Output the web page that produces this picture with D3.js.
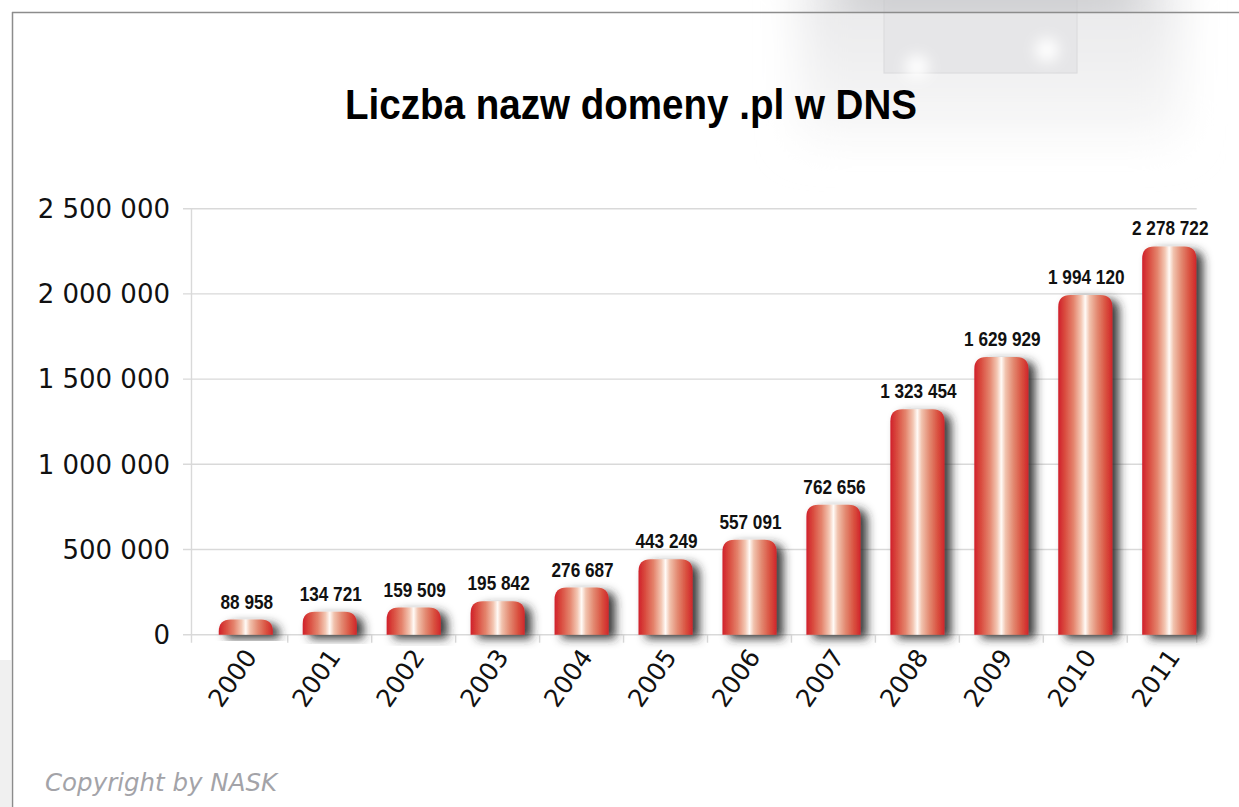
<!DOCTYPE html>
<html>
<head>
<meta charset="utf-8">
<script src="https://cdn.jsdelivr.net/npm/d3@7"></script>
<style>
  html, body { margin: 0; padding: 0; background: #fff; }
  svg { display: block; }
</style>
</head>
<body>
<div id="chart"></div>
<script>
const years = ["2000", "2001", "2002", "2003", "2004", "2005", "2006", "2007", "2008", "2009", "2010", "2011"];
const domainCounts = [88958, 134721, 159509, 195842, 276687, 443249, 557091, 762656, 1323454, 1629929, 1994120, 2278722];
const yTicks = [0, 500000, 1000000, 1500000, 2000000, 2500000];
const titleText = "Liczba nazw domeny .pl w DNS";
const copyrightText = "Copyright by NASK";

const width = 1239;
const height = 807;

// polish style number format: 1 994 120
const plFormat = d3.formatLocale({ decimal: ",", thousands: " ", grouping: [3], currency: ["", ""] }).format(",");

const svg = d3
  .select("#chart")
  .append("svg")
  .attr("width", width)
  .attr("height", height);

const defs = svg.append("defs");

// blur used by the grey decoration in the corner
defs.append("filter").attr("id", "softBlur").attr("x", "-50%").attr("y", "-50%").attr("width", "200%").attr("height", "200%")
  .append("feGaussianBlur").attr("stdDeviation", 22);
defs.append("filter").attr("id", "glowBlur").attr("x", "-100%").attr("y", "-100%").attr("width", "300%").attr("height", "300%")
  .append("feGaussianBlur").attr("stdDeviation", 7);

// shadow behind the bars
const shadow = defs.append("filter").attr("id", "barShadow").attr("x", "-40%").attr("y", "-40%").attr("width", "190%").attr("height", "180%");
shadow.append("feDropShadow")
  .attr("dx", 7).attr("dy", 4).attr("stdDeviation", 5)
  .attr("flood-color", "#262626").attr("flood-opacity", 0.9);

// horizontal red / white gradient of the bars
const barGrad = defs.append("linearGradient").attr("id", "barGrad").attr("x1", "0").attr("x2", "1").attr("y1", "0").attr("y2", "0");
[
  [0, "#d0202a"], [0.12, "#d94a3e"], [0.28, "#e4836c"], [0.42, "#f3c6b2"],
  [0.5, "#fffaf6"], [0.58, "#f1c2ad"], [0.72, "#e38a72"], [0.88, "#d9503f"], [1, "#d0262a"]
].forEach(([o, c]) => barGrad.append("stop").attr("offset", o).attr("stop-color", c));

const fadeGrad = defs.append("linearGradient").attr("id", "fadeGrad").attr("x1", "0").attr("x2", "0").attr("y1", "0").attr("y2", "1");
fadeGrad.append("stop").attr("offset", 0).attr("stop-color", "#e6e6e8");
fadeGrad.append("stop").attr("offset", 1).attr("stop-color", "#f8f8f8");

defs.append("clipPath").attr("id", "aboveFrame")
  .append("rect").attr("x", 0).attr("y", 0).attr("width", width).attr("height", 12);

// ---- background decoration (top right) ----
const deco = svg.append("g").attr("class", "deco");
deco.append("rect")
  .attr("x", 800).attr("y", -30).attr("width", 380).attr("height", 170)
  .attr("fill", "url(#fadeGrad)")
  .attr("filter", "url(#softBlur)");
deco.append("rect")
  .attr("x", 884).attr("y", -2).attr("width", 193).attr("height", 75)
  .attr("fill", "#e6e6e8").attr("stroke", "#dcdcde").attr("stroke-width", 1.2);
deco.append("g").attr("clip-path", "url(#aboveFrame)")
  .append("rect")
  .attr("x", 840).attr("y", -20).attr("width", 300).attr("height", 34)
  .attr("fill", "#c2c3c6")
  .attr("filter", "url(#softBlur)");
deco.selectAll(".glow")
  .data([[917, 67], [1047, 50]])
  .enter()
  .append("circle")
  .attr("class", "glow")
  .attr("cx", (d) => d[0]).attr("cy", (d) => d[1]).attr("r", 12)
  .attr("fill", "#ffffff")
  .attr("filter", "url(#glowBlur)");

// light grey strip left of the frame, bottom
svg.append("rect")
  .attr("x", 0).attr("y", 660).attr("width", 11).attr("height", 147)
  .attr("fill", "#f0f0f0");

// frame lines
svg.append("line").attr("x1", 12).attr("x2", width).attr("y1", 12.5).attr("y2", 12.5)
  .attr("stroke", "#8c8c8c").attr("stroke-width", 1.5);
svg.append("line").attr("x1", 12.5).attr("x2", 12.5).attr("y1", 12).attr("y2", height)
  .attr("stroke", "#8c8c8c").attr("stroke-width", 1.5);

// ---- title ----
svg.append("text")
  .attr("x", 631).attr("y", 119)
  .attr("text-anchor", "middle")
  .attr("textLength", 572)
  .attr("lengthAdjust", "spacingAndGlyphs")
  .style("font-family", "'Liberation Sans', Arial, sans-serif")
  .style("font-weight", "bold")
  .style("font-size", "42px")
  .style("fill", "#000")
  .text(titleText);

// ---- scales ----
const plotLeft = 191.5;
const plotRight = 1196.7;

const y = d3.scaleLinear().domain([0, 2500000]).range([634.7, 208.7]);

const x = d3
  .scaleBand()
  .domain(years)
  .range([203.8, 1211.2])
  .paddingInner(0.356)
  .paddingOuter(0.178);

// gridlines + y labels
const grid = svg.append("g").attr("class", "grid");
grid.selectAll("line")
  .data(yTicks)
  .enter()
  .append("line")
  .attr("x1", plotLeft - 8.5).attr("x2", plotRight)
  .attr("y1", (d) => y(d)).attr("y2", (d) => y(d))
  .attr("stroke", "#d9d9d9").attr("stroke-width", 1.4);

svg.append("line")
  .attr("x1", plotLeft).attr("x2", plotLeft)
  .attr("y1", y(2500000)).attr("y2", y(0) + 8)
  .attr("stroke", "#d9d9d9").attr("stroke-width", 1.4);

svg.append("g").attr("class", "yLabels")
  .selectAll("text")
  .data(yTicks)
  .enter()
  .append("text")
  .attr("x", 170)
  .attr("y", (d) => y(d))
  .attr("dy", "0.36em")
  .attr("text-anchor", "end")
  .style("font-family", "'DejaVu Sans', sans-serif")
  .style("font-size", "26px")
  .style("fill", "#111")
  .text((d) => plFormat(d));

// tick marks between categories on the baseline
const tickXs = years.slice(1).map((d) => x(d) - (x.step() - x.bandwidth()) / 2).concat([plotRight]);
svg.append("g").attr("class", "xTicks")
  .selectAll("line")
  .data(tickXs)
  .enter()
  .append("line")
  .attr("x1", (d) => d).attr("x2", (d) => d)
  .attr("y1", y(0)).attr("y2", y(0) + 8)
  .attr("stroke", "#d9d9d9").attr("stroke-width", 1.4);

// ---- bars ----
const barPath = (d, i) => {
  const x0 = x(years[i]);
  const w = x.bandwidth();
  const top = y(d);
  const base = y(0);
  const r = Math.min(12, (base - top));
  return `M${x0},${base} L${x0},${top + r} Q${x0},${top} ${x0 + r},${top} L${x0 + w - r},${top} Q${x0 + w},${top} ${x0 + w},${top + r} L${x0 + w},${base} Z`;
};

svg.append("g").attr("class", "bars")
  .selectAll("path")
  .data(domainCounts)
  .enter()
  .append("path")
  .attr("d", barPath)
  .attr("fill", "url(#barGrad)")
  .attr("filter", "url(#barShadow)");

// value labels above bars (condensed look)
svg.append("g").attr("class", "valueLabels")
  .selectAll("text")
  .data(domainCounts)
  .enter()
  .append("text")
  .attr("transform", (d, i) => `translate(${x(years[i]) + x.bandwidth() / 2 + 1},${y(d) - 11}) scale(0.86,1)`)
  .attr("text-anchor", "middle")
  .style("font-family", "'Liberation Sans', Arial, sans-serif")
  .style("font-weight", "bold")
  .style("font-size", "20px")
  .style("fill", "#111")
  .text((d) => plFormat(d));

// rotated year labels
svg.append("g").attr("class", "xLabels")
  .selectAll("text")
  .data(years)
  .enter()
  .append("text")
  .attr("transform", (d) => `translate(${x(d) + x.bandwidth() / 2 + 12},657) rotate(-55)`)
  .attr("text-anchor", "end")
  .style("font-family", "'DejaVu Sans', sans-serif")
  .style("font-size", "25px")
  .style("fill", "#111")
  .text((d) => d);

// copyright note
svg.append("text")
  .attr("x", 45).attr("y", 791)
  .style("font-family", "'DejaVu Sans', sans-serif")
  .style("font-style", "italic")
  .style("font-size", "24.5px")
  .style("fill", "#a3a3a8")
  .text(copyrightText);
</script>
</body>
</html>
